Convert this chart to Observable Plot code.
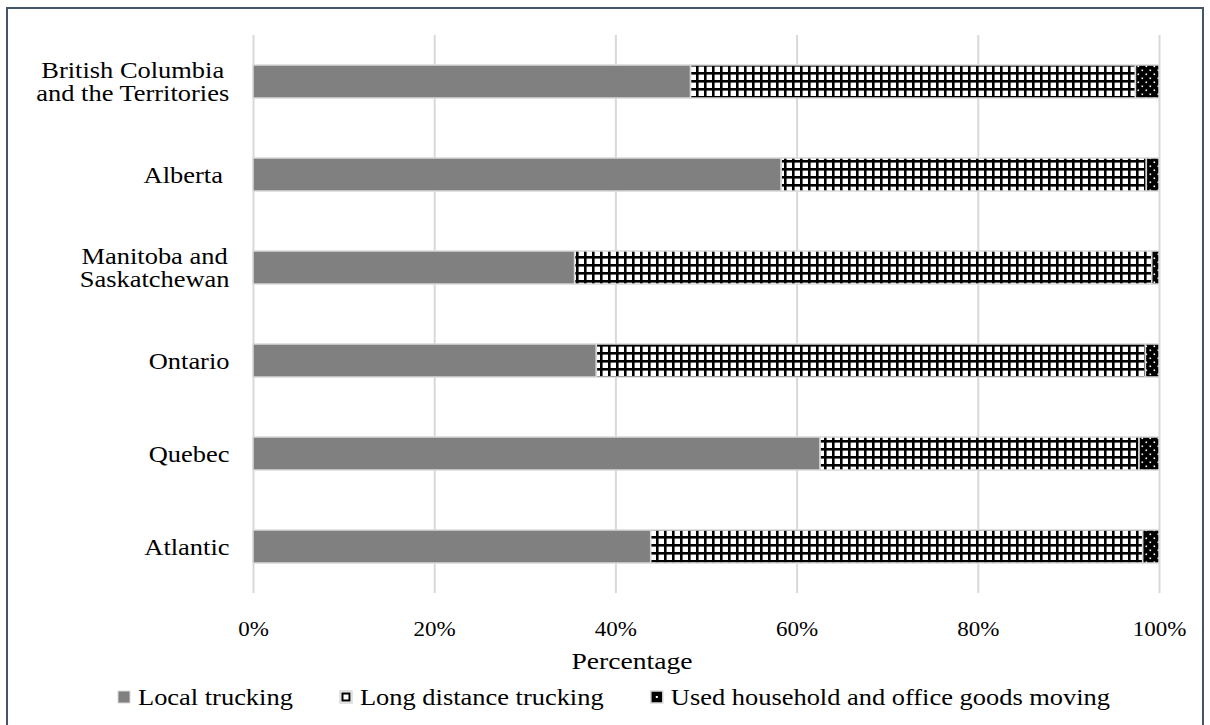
<!DOCTYPE html>
<html>
<head>
<meta charset="utf-8">
<script src="https://cdn.jsdelivr.net/npm/d3@7"></script>
<script src="https://cdn.jsdelivr.net/npm/@observablehq/plot@0.6"></script>
<style>
  body { margin: 0; background: #fff; overflow: hidden; }
  #wrap { position: relative; width: 1210px; height: 725px; font-family: "Liberation Serif", "Times New Roman", serif; }
  #frame { position: absolute; left: 6px; top: 7px; width: 1194px; height: 716px; border: 2px solid #44546a; }
  #chart { position: absolute; left: 0; top: 0; }
  #below { position: absolute; left: 0; top: 645px; }
  #defs { position: absolute; width: 0; height: 0; }
</style>
</head>
<body>
<svg id="defs" width="0" height="0">
  <defs>
    <pattern id="pat-long" patternUnits="userSpaceOnUse" width="8" height="8">
      <rect width="8" height="8" fill="#fff"></rect>
      <rect x="0" y="0" width="2.6" height="8" fill="#000"></rect>
      <rect x="0" y="0" width="8" height="2.6" fill="#000"></rect>
    </pattern>
    <pattern id="pat-used" patternUnits="userSpaceOnUse" width="8" height="8">
      <rect width="8" height="8" fill="#000"></rect>
      <rect x="1.5" y="1.5" width="1.6" height="1.6" fill="#fff"></rect>
      <rect x="5.5" y="5.5" width="1.6" height="1.6" fill="#fff"></rect>
    </pattern>
  </defs>
</svg>
<div id="wrap">
  <div id="frame"></div>
  <div id="chart"></div>
  <svg id="below" width="1210" height="80"></svg>
</div>
<script>
// Regions, top to bottom
const regions = [
  "British Columbia\nand the Territories",
  "Alberta ",
  "Manitoba and\nSaskatchewan",
  "Ontario",
  "Quebec",
  "Atlantic"
];

// Share of revenue by trucking segment (%)
const seriesNames = ["Local trucking", "Long distance trucking", "Used household and office goods moving"];
const localTrucking = [48.3, 58.3, 35.5, 37.9, 62.6, 43.9];
const longDistance  = [49.1, 40.3, 63.7, 60.6, 35.2, 54.3];
const usedGoods     = [2.6, 1.4, 0.8, 1.5, 2.2, 1.8];

const xTicks = [0, 20, 40, 60, 80, 100];
const axisTitle = "Percentage";

const seriesFills = ["#808080", "url(#pat-long)", "url(#pat-used)"];

const rows = [];
regions.forEach((region, i) => {
  [localTrucking[i], longDistance[i], usedGoods[i]].forEach((value, k) => {
    rows.push({region, series: seriesNames[k], value});
  });
});

const FONT = '"Liberation Serif", "Times New Roman", serif';
const STRETCH = 1.15; // horizontal stretch applied to all text
const labelSize = 23;

const ctx = document.createElement("canvas").getContext("2d");
function textWidth(str, size) {
  ctx.font = `${size}px "Liberation Serif"`;
  return ctx.measureText(str).width * STRETCH;
}

// Category labels: lines centred within a block that is right-aligned to the axis
const labelMarks = regions.map(region => {
  const blockW = d3.max(region.split("\n"), line => textWidth(line, labelSize));
  return Plot.text([region], {
    y: d => d,
    text: d => d,
    frameAnchor: "left",
    textAnchor: "middle",
    lineAnchor: "middle",
    lineHeight: 1.02,
    fontSize: labelSize,
    fill: "#000",
    dx: -(24 + blockW / 2)
  });
});

const chart = Plot.plot({
  width: 1210,
  height: 645,
  marginTop: 35,
  marginLeft: 253,
  marginRight: 51,
  marginBottom: 52,
  style: {fontFamily: FONT, background: "transparent", color: "#000"},
  x: {domain: [0, 100], axis: null},
  y: {domain: regions, paddingInner: 0.645, paddingOuter: 0.3225, axis: null},
  color: {domain: seriesNames, range: seriesFills},
  marks: [
    Plot.ruleX(xTicks, {stroke: "#d9d9d9", strokeWidth: 2}),
    Plot.barX(rows, Plot.stackX({
      x: "value",
      y: "region",
      fill: "series",
      stroke: "#d9d9d9",
      strokeWidth: 1.5
    })),
    Plot.axisX({
      ticks: xTicks,
      tickFormat: d => d + "%",
      tickSize: 0,
      tickPadding: 28,
      fontSize: 20,
      label: null
    }),
    ...labelMarks
  ]
});

// stretch text horizontally about its anchor
chart.querySelectorAll("text").forEach(t => {
  const tr = t.getAttribute("transform");
  if (tr) {
    t.setAttribute("transform", tr + ` scale(${STRETCH},1)`);
  } else {
    const x = +t.getAttribute("x") || 0, y = +t.getAttribute("y") || 0;
    t.setAttribute("transform", `translate(${x},${y}) scale(${STRETCH},1) translate(${-x},${-y})`);
  }
});
document.getElementById("chart").appendChild(chart);

// Axis title and legend
const below = d3.select("#below");
below.append("text")
  .attr("transform", `translate(632,16) scale(${STRETCH},1)`)
  .attr("text-anchor", "middle")
  .attr("dominant-baseline", "central")
  .style("font-family", FONT)
  .style("font-size", "24px")
  .text(axisTitle);

// legend key glyphs
function drawKey(g, k, x, y) {
  if (k === 0) {
    g.append("rect").attr("x", x).attr("y", y).attr("width", 12).attr("height", 12)
      .attr("fill", "#808080").attr("stroke", "#d9d9d9").attr("stroke-width", 1);
  } else if (k === 1) {
    g.append("rect").attr("x", x).attr("y", y).attr("width", 12).attr("height", 12)
      .attr("fill", "#fff").attr("stroke", "#d9d9d9").attr("stroke-width", 1.5);
    g.append("rect").attr("x", x + 2.5).attr("y", y + 2.5).attr("width", 7).attr("height", 7)
      .attr("fill", "#fff").attr("stroke", "#000").attr("stroke-width", 2);
  } else {
    g.append("rect").attr("x", x).attr("y", y).attr("width", 12).attr("height", 12)
      .attr("fill", "#000").attr("stroke", "#d9d9d9").attr("stroke-width", 1.5);
    g.append("rect").attr("x", x + 5).attr("y", y + 5).attr("width", 2).attr("height", 2)
      .attr("fill", "#fff");
  }
}

const legendSize = 23;
let lx = 118;
const ly = 52;
seriesNames.forEach((name, k) => {
  drawKey(below, k, lx, ly - 6);
  const tx = lx + 20;
  below.append("text")
    .attr("transform", `translate(${tx},${ly}) scale(${STRETCH},1)`)
    .attr("dominant-baseline", "central")
    .style("font-family", FONT)
    .style("font-size", legendSize + "px")
    .text(name);
  lx = tx + textWidth(name, legendSize) + 47;
});
</script>
</body>
</html>
